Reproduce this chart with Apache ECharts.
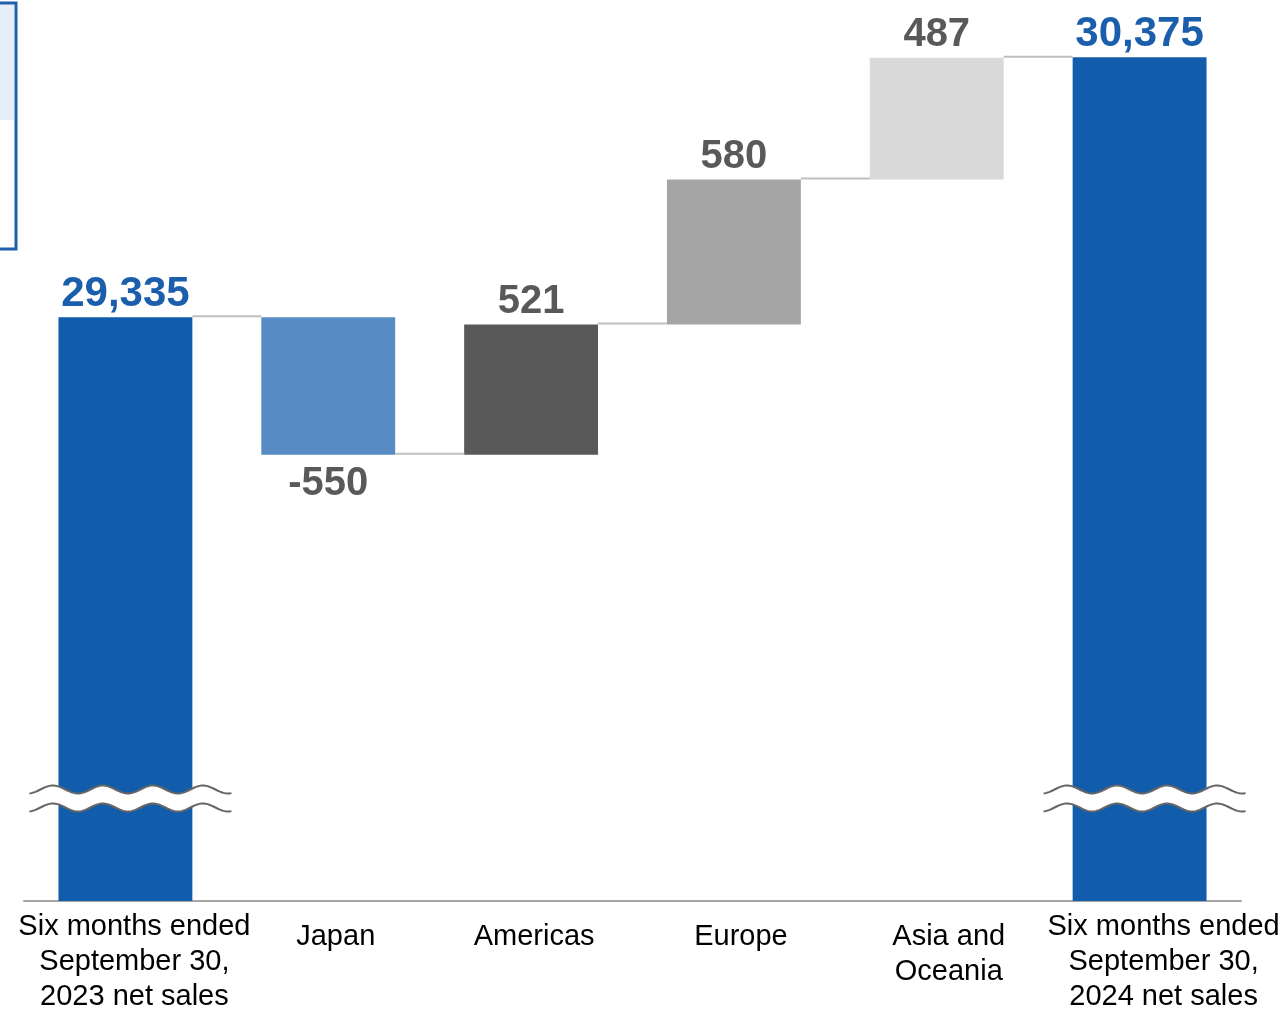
<!DOCTYPE html>
<html>
<head>
<meta charset="utf-8">
<script src="https://cdn.jsdelivr.net/npm/echarts@6/dist/echarts.min.js"></script>
<style>
  html, body { margin: 0; padding: 0; background: #fff; }
  #chart { width: 1283px; height: 1009px; }
</style>
</head>
<body>
<div id="chart"></div>
<script>
// Net sales bridge, six months ended September 30 (2023 -> 2024)
const categories = [
  'Six months ended\nSeptember 30,\n2023 net sales',
  'Japan',
  'Americas',
  'Europe',
  'Asia and\nOceania',
  'Six months ended\nSeptember 30,\n2024 net sales'
];
const startTotal = 29335;
const endTotal = 30375;
const regionChanges = [-550, 521, 580, 487];

// value axis is cut: the scale starts above zero, a break mark is drawn on the total bars
const axisFloor = 27000;
const axisCeil = 30600;
const breakValue = 27410;

const TOTAL_BLUE = '#115CAB';
const TOTAL_LABEL = '#1B5EAC';
const regionColors = ['#568BC4', '#595959', '#A5A5A5', '#D9D9D9'];
const BAR_RATIO = 0.66;

// build stacked waterfall pieces
const baseData = [];
const barData = [];
const levels = [startTotal];
baseData.push(0);
barData.push({ value: startTotal, itemStyle: { color: TOTAL_BLUE },
  label: { position: 'top', color: TOTAL_LABEL, fontSize: 42, distance: 2,
    formatter: () => startTotal.toLocaleString('en-US') } });
let level = startTotal;
regionChanges.forEach((d, i) => {
  const next = level + d;
  baseData.push(Math.min(level, next));
  barData.push({ value: Math.abs(d), itemStyle: { color: regionColors[i] },
    label: { position: d < 0 ? 'bottom' : 'top', distance: d < 0 ? 9 : 3, color: '#595959',
      formatter: () => String(d) } });
  level = next;
  levels.push(level);
});
baseData.push(0);
barData.push({ value: endTotal, itemStyle: { color: TOTAL_BLUE },
  label: { position: 'top', color: TOTAL_LABEL, fontSize: 42, distance: 2,
    formatter: () => endTotal.toLocaleString('en-US') } });

// connectors: from bar i to bar i+1 at running level
const connectorData = levels.map((v, i) => [i, v]);

// label nudges per category: [top padding, left padding]
const labelNudge = [[0, 18], [10, 15], [10, 6], [10, 14], [10, 24], [0, 48]];
const xData = categories.map((c, i) => ({
  value: c,
  textStyle: { padding: [labelNudge[i][0], 0, 0, labelNudge[i][1]] }
}));

const chart = echarts.init(document.getElementById('chart'), null, { renderer: 'canvas' });

chart.setOption({
  animation: false,
  backgroundColor: '#ffffff',
  grid: { left: 24, right: 42, top: 1, bottom: 108, containLabel: false, outerBoundsMode: 'none' },
  xAxis: {
    type: 'category',
    data: xData,
    axisLine: { show: true, lineStyle: { color: '#A6A6A6', width: 2 } },
    axisTick: { show: false },
    axisLabel: {
      interval: 0,
      margin: 8,
      color: '#000000',
      fontFamily: 'Liberation Sans, Arial, sans-serif',
      fontSize: 29,
      lineHeight: 35,
      align: 'center',
      hideOverlap: false
    },
    z: 1
  },
  yAxis: {
    type: 'value',
    min: axisFloor,
    max: axisCeil,
    show: false,
    splitLine: { show: false }
  },
  series: [
    {
      type: 'bar',
      stack: 'bridge',
      data: baseData,
      barWidth: (BAR_RATIO * 100) + '%',
      itemStyle: { color: 'rgba(0,0,0,0)' },
      silent: true,
      clip: true,
      z: 2
    },
    {
      type: 'bar',
      stack: 'bridge',
      data: barData,
      barWidth: (BAR_RATIO * 100) + '%',
      clip: true,
      z: 3,
      label: {
        show: true,
        distance: 3,
        fontFamily: 'Liberation Sans, Arial, sans-serif',
        fontWeight: 'bold',
        fontSize: 40
      }
    },
    {
      // thin grey steps between neighbouring bars
      type: 'custom',
      data: connectorData,
      z: 4,
      silent: true,
      renderItem: function (params, api) {
        const i = api.value(0);
        if (i >= categories.length - 1) return null;
        const v = api.value(1);
        const p = api.coord([i, v]);
        const band = api.size([1, 0])[0];
        const half = band * BAR_RATIO / 2;
        return {
          type: 'line',
          shape: { x1: p[0] + half, y1: p[1] - 1, x2: p[0] + band - half, y2: p[1] - 1 },
          style: { stroke: '#BFBFBF', lineWidth: 2 }
        };
      }
    },
    {
      // axis break marks over the two total bars
      type: 'custom',
      data: [[0, breakValue], [categories.length - 1, breakValue]],
      z: 6,
      silent: true,
      renderItem: function (params, api) {
        const p = api.coord([api.value(0), api.value(1)]);
        const cx = p[0], cy = p[1];
        const x0 = cx - 96, x1 = cx + 106;
        const period = 50, amp = 4, gap = 9;
        const crest = cx - 72.5;
        const upper = [], lower = [];
        for (let x = x0; x <= x1 + 0.01; x += 2) {
          const w = -amp * Math.cos(2 * Math.PI * (x - crest) / period);
          upper.push([x, cy - gap + w]);
          lower.push([x, cy + gap + w]);
        }
        const poly = upper.concat(lower.slice().reverse());
        return {
          type: 'group',
          children: [
            { type: 'polygon', shape: { points: poly }, style: { fill: '#ffffff' } },
            { type: 'polyline', shape: { points: upper }, style: { stroke: '#666666', lineWidth: 2, fill: null } },
            { type: 'polyline', shape: { points: lower }, style: { stroke: '#666666', lineWidth: 2, fill: null } }
          ]
        };
      }
    }
  ],
  graphic: [
    { type: 'rect', left: 0, top: 4, shape: { width: 14, height: 116 }, style: { fill: '#E6EEF7' }, silent: true },
    { type: 'rect', shape: { x: -10, y: 3, width: 26, height: 246 },
      style: { fill: null, stroke: '#1F5FAD', lineWidth: 3 }, silent: true }
  ]
});
</script>
</body>
</html>
